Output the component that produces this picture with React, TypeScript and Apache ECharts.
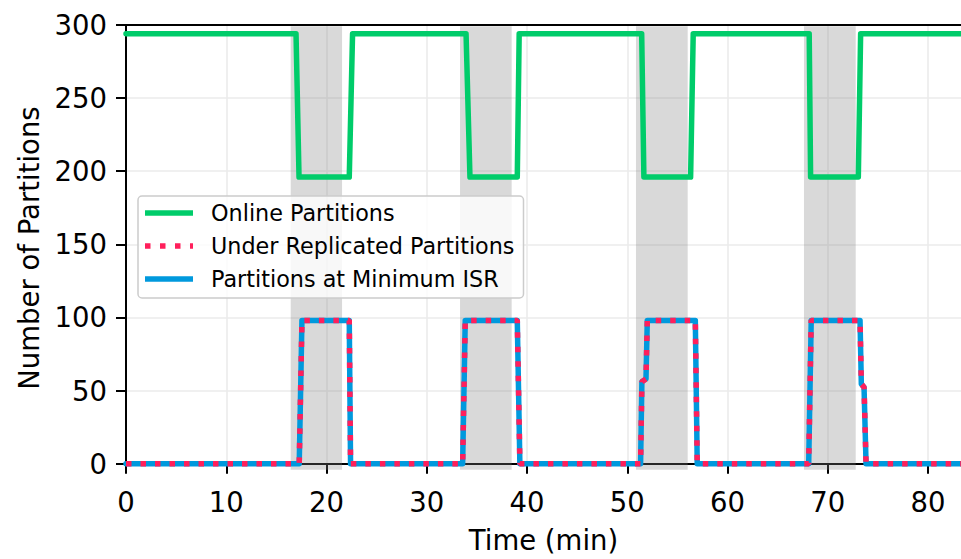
import React, { useEffect, useRef } from 'react';
import * as echarts from 'echarts';

// ---- data ----
const onlineTime = [0, 16.96, 17.26, 22.27, 22.6, 33.92, 34.31, 39.03, 39.22, 51.44, 51.66, 56.32, 56.58, 68.15, 68.29, 73.05, 73.28, 90];
const onlineValues = [294, 294, 196, 196, 294, 294, 196, 196, 294, 294, 196, 196, 294, 294, 196, 196, 294, 294];

const urpTime = [0, 17.28, 17.55, 22.27, 22.4, 33.58, 33.84, 39.03, 39.29, 51.33, 51.46, 51.87, 52.0, 56.79, 56.98, 68.1, 68.35, 73.22, 73.35, 73.62, 73.82, 90];
const urpValues = [0, 0, 98, 98, 0, 0, 98, 98, 0, 0, 56, 58, 98, 98, 0, 0, 98, 98, 54.5, 52.3, 0, 0];

const minIsrTime = [0, 17.28, 17.55, 22.27, 22.4, 33.58, 33.84, 39.03, 39.29, 51.33, 51.46, 51.87, 52.0, 56.79, 56.98, 68.1, 68.35, 73.22, 73.35, 73.62, 73.82, 90];
const minIsrValues = [0, 0, 98, 98, 0, 0, 98, 98, 0, 0, 56, 58, 98, 98, 0, 0, 98, 98, 54.5, 52.3, 0, 0];

const bandStarts = [16.43, 33.32, 50.87, 67.63];
const bandEnds = [21.55, 38.47, 56.03, 72.79];

const xTicks = [0, 10, 20, 30, 40, 50, 60, 70, 80];
const yTicks = [0, 50, 100, 150, 200, 250, 300];

const seriesNames = ['Online Partitions', 'Under Replicated Partitions', 'Partitions at Minimum ISR'];

const FONT = 'DejaVu Sans';
const GREEN = '#00cc6a';
const PINK = '#ff1f5b';
const BLUE = '#0099dd';

// dotted legend handle: small squares along a 48-wide strip
const DOTTED_ICON =
  'path://M0,0h5.5v5.5h-5.5z M15,0h5.5v5.5h-5.5z M30,0h5.5v5.5h-5.5z M45,0h3v5.5h-3z';

export default function App() {
  const ref = useRef<HTMLDivElement>(null);
  useEffect(() => {
    if (!ref.current) return;
    const chart = echarts.init(ref.current, undefined, { renderer: 'svg' });
    const W = 961;
    const gridLeft = 126;
    const pxPerMin = 10.025;
    const xMax = (W - gridLeft) / pxPerMin;
    const yMin = -5;
    const yMax = 300;
    // keep the shaded bands just inside the spines so the spines stay black
    const inset = 0.8;

    const pairs = (t: number[], v: number[]) => t.map((x, i) => [x, v[i]]);

    const axisLineStyle = { color: '#000', width: 2 };

    chart.setOption({
      animation: false,
      textStyle: { fontFamily: FONT },
      grid: {
        left: gridLeft,
        right: 0,
        top: 25,
        bottom: 82.7,
        show: false,
      },
      legend: {
        orient: 'vertical',
        left: 138,
        top: 196,
        data: [
          { name: seriesNames[0], icon: 'rect' },
          { name: seriesNames[1], icon: DOTTED_ICON },
          { name: seriesNames[2], icon: 'rect' },
        ],
        itemWidth: 48,
        itemHeight: 5.5,
        itemGap: 11,
        padding: [6, 9, 8, 7],
        backgroundColor: 'rgba(255,255,255,0.8)',
        borderColor: '#cccccc',
        borderWidth: 1.5,
        borderRadius: 4,
        textStyle: { fontFamily: FONT, fontSize: 22.3, color: '#000', padding: [0, 0, 0, 13] },
      },
      xAxis: [
        {
          type: 'value',
          min: 0,
          max: xMax,
          name: 'Time (min)',
          nameLocation: 'middle',
          nameGap: 55,
          nameTextStyle: { fontFamily: FONT, fontSize: 27.5, color: '#000' },
          axisLine: { show: true, lineStyle: axisLineStyle },
          axisTick: { show: true, length: 10, inside: false, lineStyle: axisLineStyle, customValues: xTicks },
          axisLabel: { customValues: xTicks, fontFamily: FONT, fontSize: 27.5, color: '#000', margin: 17 },
          splitLine: { show: true, lineStyle: { color: '#ebebeb', width: 1.6 } },
        },
        {
          type: 'value',
          position: 'top',
          min: 0,
          max: xMax,
          axisLine: { show: true, lineStyle: axisLineStyle },
          axisTick: { show: false },
          axisLabel: { show: false },
          splitLine: { show: false },
        },
      ],
      yAxis: {
        type: 'value',
        min: yMin,
        max: yMax,
        name: 'Number of Partitions',
        nameLocation: 'middle',
        nameGap: 83,
        nameRotate: 90,
        nameTextStyle: { fontFamily: FONT, fontSize: 27.5, color: '#000' },
        axisLine: { show: true, lineStyle: axisLineStyle },
        axisTick: { show: true, length: 10, inside: false, lineStyle: axisLineStyle, customValues: yTicks },
        axisLabel: { customValues: yTicks, fontFamily: FONT, fontSize: 27.5, color: '#000', margin: 19 },
        splitLine: { show: true, lineStyle: { color: '#ebebeb', width: 1.6 } },
      },
      series: [
        {
          type: 'line',
          name: '__bands',
          data: [],
          silent: true,
          z: 1,
          markArea: {
            silent: true,
            itemStyle: { color: 'rgba(128,128,128,0.3)' },
            data: bandStarts.map((s, i) => [
              { xAxis: s, yAxis: yMin + inset },
              { xAxis: bandEnds[i], yAxis: yMax - inset },
            ]),
          },
        },
        {
          type: 'line',
          name: seriesNames[0],
          data: pairs(onlineTime, onlineValues),
          symbol: 'none',
          z: 3,
          color: GREEN,
          lineStyle: { color: GREEN, width: 5.5, join: 'round', cap: 'round' },
        },
        {
          type: 'line',
          name: seriesNames[2],
          data: pairs(minIsrTime, minIsrValues),
          symbol: 'none',
          z: 4,
          color: BLUE,
          lineStyle: { color: BLUE, width: 5.5, join: 'round', cap: 'round' },
        },
        {
          type: 'line',
          name: seriesNames[1],
          data: pairs(urpTime, urpValues),
          symbol: 'none',
          z: 5,
          color: PINK,
          lineStyle: { color: PINK, width: 5.5, type: [5.5, 9], cap: 'butt' },
        },
      ],
    });
    return () => chart.dispose();
  }, []);
  return <div ref={ref} style={{ position: 'absolute', left: 0, top: 0, width: 961, height: 559 }} />;
}
